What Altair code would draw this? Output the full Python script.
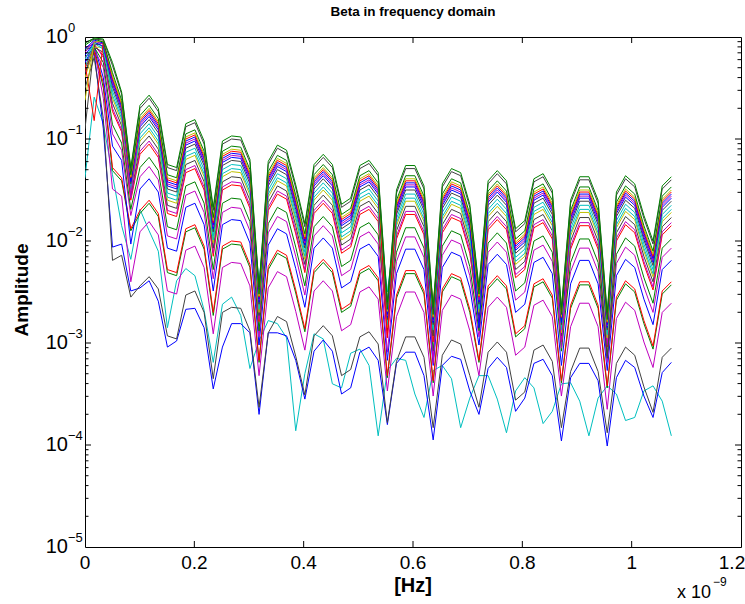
import altair as alt
import pandas as pd

FONT = "Liberation Sans"

# frequency axis (units of 1e-9 Hz)
freq = [0.0000, 0.0168, 0.0335, 0.0503, 0.0670, 0.0838, 0.1006, 0.1173, 0.1341, 0.1508,
        0.1676, 0.1844, 0.2011, 0.2179, 0.2346, 0.2514, 0.2682, 0.2849, 0.3017, 0.3184,
        0.3352, 0.3520, 0.3687, 0.3855, 0.4022, 0.4190, 0.4358, 0.4525, 0.4693, 0.4860,
        0.5028, 0.5196, 0.5363, 0.5531, 0.5698, 0.5866, 0.6034, 0.6201, 0.6369, 0.6536,
        0.6704, 0.6872, 0.7039, 0.7207, 0.7374, 0.7542, 0.7710, 0.7877, 0.8045, 0.8212,
        0.8380, 0.8548, 0.8715, 0.8883, 0.9050, 0.9218, 0.9386, 0.9553, 0.9721, 0.9888,
        1.0056, 1.0224, 1.0391, 1.0559, 1.0726]

# log10(amplitude), one list per curve
c1 = [-1.38, -0.59, -0.85, -1.35, -1.85, -2.18, -1.69, -1.90, -2.10, -2.85,
      -2.39, -2.27, -2.34, -2.68, -3.19, -2.62, -2.55, -2.73, -3.25, -2.98,
      -2.78, -2.81, -2.95, -3.86, -3.30, -2.91, -2.96, -3.40, -3.44, -3.10,
      -3.06, -3.22, -3.91, -3.27, -3.15, -3.17, -3.50, -3.73, -3.27, -3.22,
      -3.35, -3.83, -3.54, -3.32, -3.32, -3.55, -3.88, -3.47, -3.34, -3.44,
      -3.79, -3.67, -3.40, -3.39, -3.57, -3.91, -3.54, -3.42, -3.50, -3.76,
      -3.73, -3.47, -3.42, -3.57, -3.91]
b4 = [-0.35, -0.15, -0.90, -2.06, -2.03, -2.49, -2.46, -2.39, -2.59, -3.04,
      -2.98, -2.67, -2.66, -2.85, -3.45, -3.04, -2.81, -2.81, -2.90, -3.70,
      -2.90, -2.90, -2.93, -3.17, -3.55, -3.08, -2.97, -3.08, -3.50, -3.44,
      -3.09, -3.04, -3.17, -3.80, -3.20, -3.09, -3.09, -3.32, -3.95, -3.22,
      -3.13, -3.16, -3.47, -3.70, -3.25, -3.14, -3.24, -3.67, -3.54, -3.20,
      -3.16, -3.32, -3.96, -3.34, -3.20, -3.20, -3.37, -4.01, -3.34, -3.17,
      -3.24, -3.52, -3.73, -3.29, -3.19]
k1 = [-0.50, -0.20, -0.80, -2.19, -2.14, -2.55, -2.44, -2.35, -2.47, -2.93,
      -2.96, -2.53, -2.49, -2.70, -3.35, -2.70, -2.65, -2.66, -2.88, -3.63,
      -2.90, -2.74, -2.79, -3.13, -3.51, -2.93, -2.83, -2.93, -3.32, -3.26,
      -2.94, -2.89, -3.01, -3.78, -3.18, -2.94, -2.94, -3.14, -3.83, -3.12,
      -2.97, -3.01, -3.32, -3.63, -3.09, -2.99, -3.09, -3.56, -3.48, -3.07,
      -3.02, -3.18, -3.83, -3.28, -3.05, -3.05, -3.28, -3.88, -3.20, -3.04,
      -3.12, -3.43, -3.68, -3.14, -3.05]
m4 = [-0.25, -0.12, -0.60, -1.49, -1.56, -2.40, -1.91, -1.81, -1.94, -2.49,
      -2.52, -2.09, -2.05, -2.26, -2.91, -2.26, -2.21, -2.22, -2.44, -3.32,
      -2.46, -2.30, -2.35, -2.69, -3.07, -2.49, -2.39, -2.49, -2.88, -2.82,
      -2.50, -2.45, -2.57, -3.47, -2.74, -2.50, -2.50, -2.70, -3.52, -2.68,
      -2.53, -2.57, -2.88, -3.32, -2.65, -2.55, -2.65, -3.12, -3.04, -2.63,
      -2.58, -2.74, -3.52, -2.84, -2.61, -2.61, -2.84, -3.65, -2.76, -2.60,
      -2.68, -2.99, -3.24, -2.70, -2.61]
g4 = [-0.20, -0.10, -0.50, -1.31, -1.41, -1.90, -1.73, -1.63, -1.76, -2.31,
      -2.34, -1.91, -1.87, -2.08, -2.73, -2.08, -2.03, -2.04, -2.26, -3.19,
      -2.28, -2.12, -2.17, -2.51, -2.89, -2.31, -2.21, -2.31, -2.70, -2.64,
      -2.32, -2.27, -2.39, -3.34, -2.56, -2.32, -2.32, -2.52, -3.39, -2.50,
      -2.35, -2.39, -2.70, -3.19, -2.47, -2.37, -2.47, -2.94, -2.86, -2.45,
      -2.40, -2.56, -3.39, -2.66, -2.43, -2.43, -2.66, -3.44, -2.58, -2.42,
      -2.50, -2.81, -3.06, -2.52, -2.43]
r3 = [-0.30, -0.15, -0.45, -1.28, -1.38, -1.88, -1.70, -1.60, -1.73, -2.28,
      -2.31, -1.88, -1.84, -2.05, -2.70, -2.05, -2.00, -2.01, -2.23, -3.17,
      -2.25, -2.09, -2.14, -2.48, -2.86, -2.28, -2.18, -2.28, -2.67, -2.61,
      -2.29, -2.24, -2.36, -3.32, -2.53, -2.29, -2.29, -2.49, -3.37, -2.47,
      -2.32, -2.36, -2.67, -3.17, -2.44, -2.34, -2.44, -2.91, -2.83, -2.42,
      -2.37, -2.53, -3.37, -2.63, -2.40, -2.40, -2.63, -3.42, -2.55, -2.39,
      -2.47, -2.78, -3.03, -2.49, -2.40]
b3 = [-0.25, -0.08, -0.40, -1.07, -1.21, -2.03, -1.49, -1.39, -1.52, -2.07,
      -2.10, -1.67, -1.63, -1.84, -2.49, -1.84, -1.79, -1.80, -2.02, -3.02,
      -2.04, -1.88, -1.93, -2.27, -2.65, -2.07, -1.97, -2.07, -2.46, -2.40,
      -2.08, -2.03, -2.15, -3.17, -2.32, -2.08, -2.08, -2.28, -3.22, -2.26,
      -2.11, -2.15, -2.46, -3.02, -2.23, -2.13, -2.23, -2.70, -2.62, -2.21,
      -2.16, -2.32, -3.22, -2.42, -2.19, -2.19, -2.42, -3.27, -2.34, -2.18,
      -2.26, -2.57, -2.82, -2.28, -2.19]
m3 = [-0.20, -0.12, -0.30, -0.95, -1.11, -1.75, -1.37, -1.27, -1.40, -1.95,
      -1.98, -1.55, -1.51, -1.72, -2.37, -1.72, -1.67, -1.68, -1.90, -2.94,
      -1.92, -1.76, -1.81, -2.15, -2.53, -1.95, -1.85, -1.95, -2.34, -2.28,
      -1.96, -1.91, -2.03, -3.09, -2.20, -1.96, -1.96, -2.16, -3.14, -2.14,
      -1.99, -2.03, -2.34, -2.94, -2.11, -2.01, -2.11, -2.58, -2.50, -2.09,
      -2.04, -2.20, -2.85, -2.30, -2.07, -2.07, -2.30, -3.19, -2.22, -2.06,
      -2.14, -2.45, -2.70, -2.16, -2.07]
g3 = [-0.12, -0.10, -0.25, -0.86, -1.04, -1.69, -1.28, -1.18, -1.31, -1.86,
      -1.89, -1.46, -1.42, -1.63, -2.28, -1.63, -1.58, -1.59, -1.81, -2.88,
      -1.83, -1.67, -1.72, -2.06, -2.44, -1.86, -1.76, -1.86, -2.25, -2.19,
      -1.87, -1.82, -1.94, -2.80, -2.11, -1.87, -1.87, -2.07, -3.08, -2.05,
      -1.90, -1.94, -2.25, -2.88, -2.02, -1.92, -2.02, -2.49, -2.41, -2.00,
      -1.95, -2.11, -3.08, -2.21, -1.98, -1.98, -2.21, -3.13, -2.13, -1.97,
      -2.05, -2.36, -2.61, -2.07, -1.98]
r2 = [-0.30, -0.08, -0.18, -0.73, -0.93, -1.60, -1.15, -1.05, -1.18, -1.73,
      -1.76, -1.33, -1.29, -1.50, -2.15, -1.50, -1.45, -1.46, -1.68, -2.79,
      -1.70, -1.54, -1.59, -1.93, -2.31, -1.73, -1.63, -1.73, -2.12, -2.06,
      -1.74, -1.69, -1.81, -2.94, -1.98, -1.74, -1.74, -1.94, -2.99, -1.92,
      -1.77, -1.81, -2.12, -2.79, -1.89, -1.79, -1.89, -2.36, -2.28, -1.87,
      -1.82, -1.98, -2.99, -2.08, -1.85, -1.85, -2.08, -3.04, -2.00, -1.84,
      -1.92, -2.23, -2.48, -1.94, -1.85]
m2 = [-0.10, -0.07, -0.20, -0.70, -0.91, -1.58, -1.12, -1.02, -1.15, -1.70,
      -1.73, -1.30, -1.26, -1.47, -2.12, -1.47, -1.42, -1.43, -1.65, -2.77,
      -1.67, -1.51, -1.56, -1.90, -2.28, -1.70, -1.60, -1.70, -2.09, -2.03,
      -1.71, -1.66, -1.78, -2.92, -1.95, -1.71, -1.71, -1.91, -3.20, -1.89,
      -1.74, -1.78, -2.09, -2.77, -1.86, -1.76, -1.86, -2.33, -2.25, -1.84,
      -1.79, -1.95, -2.97, -2.05, -1.82, -1.82, -2.05, -3.02, -1.97, -1.81,
      -1.89, -2.20, -2.45, -1.91, -1.82]
k3 = [-0.35, -0.10, -0.15, -0.65, -0.87, -1.55, -1.07, -0.97, -1.10, -1.65,
      -1.68, -1.25, -1.21, -1.42, -2.07, -1.42, -1.37, -1.38, -1.60, -2.73,
      -1.62, -1.46, -1.51, -1.85, -2.23, -1.65, -1.55, -1.65, -2.04, -1.98,
      -1.66, -1.61, -1.73, -2.88, -1.90, -1.66, -1.66, -1.86, -2.93, -1.84,
      -1.69, -1.73, -2.04, -2.73, -1.81, -1.71, -1.81, -2.28, -2.20, -1.79,
      -1.74, -1.90, -2.93, -2.00, -1.77, -1.77, -2.00, -3.15, -1.92, -1.76,
      -1.84, -2.15, -2.40, -1.86, -1.77]
y2 = [-0.40, -0.10, -0.10, -0.60, -0.83, -1.51, -1.02, -0.92, -1.05, -1.60,
      -1.63, -1.20, -1.16, -1.37, -2.02, -1.37, -1.32, -1.33, -1.55, -2.70,
      -1.57, -1.41, -1.46, -1.80, -2.18, -1.60, -1.50, -1.60, -1.99, -1.93,
      -1.61, -1.56, -1.68, -2.85, -1.85, -1.61, -1.61, -1.81, -2.60, -1.79,
      -1.64, -1.68, -1.99, -2.70, -1.76, -1.66, -1.76, -2.23, -2.15, -1.74,
      -1.69, -1.85, -2.90, -1.95, -1.72, -1.72, -1.95, -2.95, -1.87, -1.71,
      -1.79, -2.10, -2.35, -1.81, -1.72]
c3 = [-0.30, -0.06, -0.12, -0.57, -0.80, -1.49, -0.99, -0.89, -1.02, -1.57,
      -1.60, -1.17, -1.13, -1.34, -1.99, -1.34, -1.29, -1.30, -1.52, -2.67,
      -1.54, -1.38, -1.43, -1.77, -2.15, -1.57, -1.47, -1.57, -1.96, -1.90,
      -1.58, -1.53, -1.65, -2.82, -1.82, -1.58, -1.58, -1.78, -2.87, -1.76,
      -1.61, -1.65, -1.96, -2.67, -1.73, -1.63, -1.73, -2.20, -2.12, -1.71,
      -1.66, -1.82, -2.87, -1.92, -1.69, -1.69, -1.92, -2.92, -1.84, -1.68,
      -1.76, -2.07, -2.32, -1.78, -1.69]
c2 = [-0.22, -0.05, -0.10, -0.53, -0.77, -1.47, -0.95, -0.85, -0.98, -1.53,
      -1.56, -1.13, -1.09, -1.30, -1.95, -1.30, -1.25, -1.26, -1.48, -2.40,
      -1.50, -1.34, -1.39, -1.73, -2.11, -1.53, -1.43, -1.53, -1.92, -1.86,
      -1.54, -1.49, -1.61, -2.50, -1.78, -1.54, -1.54, -1.74, -2.85, -1.72,
      -1.57, -1.61, -1.92, -2.65, -1.69, -1.59, -1.69, -2.16, -2.08, -1.67,
      -1.62, -1.78, -2.85, -1.88, -1.65, -1.65, -1.88, -2.90, -1.80, -1.64,
      -1.72, -2.03, -2.28, -1.74, -1.65]
k2 = [-0.90, -0.08, -0.06, -0.49, -0.74, -1.44, -0.91, -0.81, -0.94, -1.49,
      -1.52, -1.09, -1.05, -1.26, -1.91, -1.26, -1.21, -1.22, -1.44, -2.62,
      -1.46, -1.30, -1.35, -1.69, -2.07, -1.49, -1.39, -1.49, -1.88, -1.82,
      -1.50, -1.45, -1.57, -2.77, -1.74, -1.50, -1.50, -1.70, -2.82, -1.68,
      -1.53, -1.57, -1.88, -2.62, -1.65, -1.55, -1.65, -2.12, -2.04, -1.63,
      -1.58, -1.74, -2.82, -1.84, -1.61, -1.61, -1.84, -2.87, -1.76, -1.60,
      -1.68, -1.99, -2.24, -1.70, -1.61]
b2 = [-0.18, -0.05, -0.09, -0.46, -0.71, -1.42, -0.88, -0.78, -0.91, -1.46,
      -1.49, -1.06, -1.02, -1.23, -1.88, -1.23, -1.18, -1.19, -1.41, -2.60,
      -1.43, -1.27, -1.32, -1.66, -2.04, -1.46, -1.36, -1.46, -1.85, -1.79,
      -1.47, -1.42, -1.54, -2.75, -1.71, -1.47, -1.47, -1.67, -2.80, -1.65,
      -1.50, -1.54, -1.85, -2.60, -1.62, -1.52, -1.62, -2.09, -2.01, -1.60,
      -1.55, -1.71, -2.80, -1.81, -1.58, -1.58, -1.81, -2.85, -1.73, -1.57,
      -1.65, -1.96, -2.21, -1.67, -1.58]
m1 = [-0.15, -0.04, -0.07, -0.44, -0.70, -1.55, -0.86, -0.76, -0.89, -1.44,
      -1.47, -1.04, -1.00, -1.21, -1.86, -1.21, -1.16, -1.17, -1.39, -2.58,
      -1.41, -1.25, -1.30, -1.64, -2.02, -1.44, -1.34, -1.44, -1.83, -1.77,
      -1.45, -1.40, -1.52, -2.73, -1.69, -1.45, -1.45, -1.65, -2.78, -1.63,
      -1.48, -1.52, -1.83, -2.58, -1.60, -1.50, -1.60, -2.07, -1.99, -1.58,
      -1.53, -1.69, -3.05, -1.79, -1.56, -1.56, -1.79, -2.83, -1.71, -1.55,
      -1.63, -1.94, -2.19, -1.65, -1.56]
b1 = [-0.12, -0.03, -0.06, -0.42, -0.68, -1.39, -0.84, -0.74, -0.87, -1.42,
      -1.45, -1.02, -0.98, -1.19, -1.84, -1.19, -1.14, -1.15, -1.37, -2.57,
      -1.39, -1.23, -1.28, -1.62, -2.00, -1.42, -1.32, -1.42, -1.81, -1.75,
      -1.43, -1.38, -1.50, -2.72, -1.67, -1.43, -1.43, -1.63, -2.77, -1.61,
      -1.46, -1.50, -1.81, -2.85, -1.58, -1.48, -1.58, -2.05, -1.97, -1.56,
      -1.51, -1.67, -2.77, -1.77, -1.54, -1.54, -1.77, -2.82, -1.69, -1.53,
      -1.61, -1.92, -2.17, -1.63, -1.54]
r1 = [-0.26, -0.82, -0.05, -0.40, -0.66, -1.38, -0.82, -0.72, -0.85, -1.40,
      -1.43, -1.00, -0.96, -1.17, -1.82, -1.17, -1.12, -1.13, -1.35, -2.55,
      -1.37, -1.21, -1.26, -1.60, -1.98, -1.40, -1.30, -1.40, -1.79, -1.73,
      -1.41, -1.36, -1.48, -2.95, -1.65, -1.41, -1.41, -1.61, -2.75, -1.59,
      -1.44, -1.48, -1.79, -2.55, -1.56, -1.46, -1.56, -2.03, -1.95, -1.54,
      -1.49, -1.65, -2.75, -1.75, -1.52, -1.52, -1.75, -2.80, -1.67, -1.51,
      -1.59, -1.90, -2.15, -1.61, -1.52]
y1 = [-0.62, -0.05, -0.04, -0.38, -0.65, -1.37, -0.80, -0.70, -0.83, -1.38,
      -1.41, -0.98, -0.94, -1.15, -1.80, -1.15, -1.10, -1.11, -1.33, -2.54,
      -1.35, -1.19, -1.24, -1.58, -1.96, -1.38, -1.28, -1.38, -1.77, -1.71,
      -1.39, -1.34, -1.46, -2.69, -1.63, -1.39, -1.39, -1.59, -2.74, -1.57,
      -1.42, -1.46, -1.77, -2.54, -1.54, -1.44, -1.54, -2.01, -1.93, -1.52,
      -1.47, -1.63, -2.74, -1.73, -1.50, -1.50, -1.73, -2.79, -1.65, -1.49,
      -1.57, -1.88, -2.13, -1.59, -1.50]
g2 = [-0.08, -0.02, -0.05, -0.35, -0.62, -1.35, -0.77, -0.67, -0.80, -1.35,
      -1.38, -0.95, -0.91, -1.12, -1.77, -1.12, -1.07, -1.08, -1.30, -2.52,
      -1.32, -1.16, -1.21, -1.55, -1.93, -1.35, -1.25, -1.35, -1.74, -1.68,
      -1.36, -1.31, -1.43, -2.67, -1.60, -1.36, -1.36, -1.56, -2.72, -1.54,
      -1.39, -1.43, -1.74, -2.52, -1.51, -1.41, -1.51, -1.98, -1.90, -1.49,
      -1.44, -1.60, -2.72, -1.70, -1.47, -1.47, -1.70, -2.77, -1.62, -1.46,
      -1.54, -1.85, -2.10, -1.56, -1.47]
k4 = [-0.05, -0.02, -0.03, -0.28, -0.56, -1.30, -0.70, -0.60, -0.73, -1.28,
      -1.31, -0.88, -0.84, -1.05, -1.70, -1.05, -1.00, -1.01, -1.23, -2.47,
      -1.25, -1.09, -1.14, -1.48, -1.86, -1.28, -1.18, -1.28, -1.67, -1.61,
      -1.29, -1.24, -1.36, -2.62, -1.53, -1.29, -1.29, -1.49, -2.67, -1.47,
      -1.32, -1.36, -1.67, -2.47, -1.44, -1.34, -1.44, -1.91, -1.83, -1.42,
      -1.37, -1.53, -2.67, -1.63, -1.40, -1.40, -1.63, -2.72, -1.55, -1.39,
      -1.47, -1.78, -2.03, -1.49, -1.40]
g1 = [-0.06, -0.01, -0.02, -0.25, -0.54, -1.28, -0.67, -0.57, -0.70, -1.25,
      -1.28, -0.85, -0.81, -1.02, -1.67, -1.02, -0.97, -0.98, -1.20, -2.45,
      -1.22, -1.06, -1.11, -1.45, -1.83, -1.25, -1.15, -1.25, -1.64, -1.58,
      -1.26, -1.21, -1.33, -2.60, -1.50, -1.26, -1.26, -1.46, -2.65, -1.44,
      -1.29, -1.33, -1.64, -2.45, -1.41, -1.31, -1.41, -1.88, -1.80, -1.39,
      -1.34, -1.50, -2.65, -1.60, -1.37, -1.37, -1.60, -2.70, -1.52, -1.36,
      -1.44, -1.75, -2.00, -1.46, -1.37]

BLUE, GREEN, RED, CYAN, MAG, YEL, BLK = "#0000ff", "#008000", "#ff0000", "#00bfbf", "#bf00bf", "#bfbf00", "#404040"

curves = [c1, b4, k1, m4, g4, r3, b3, m3, g3, r2, m2, k3, y2, c3, c2, k2, b2, m1, b1, r1, y1, g2, k4, g1]
curve_colors = [CYAN, BLUE, BLK, MAG, GREEN, RED, BLUE, MAG, GREEN, RED, MAG, BLK, YEL, CYAN, CYAN, BLK,
                BLUE, MAG, BLUE, RED, YEL, GREEN, BLK, GREEN]
names = ["L%02d" % (i + 1) for i in range(len(curves))]

rows = []
for name, vals in zip(names, curves):
    assert len(vals) == len(freq), name
    for f, v in zip(freq, vals):
        rows.append({"freq": f, "amp": 10.0 ** v, "series": name})
df = pd.DataFrame(rows)

# axis ticks / labels
x_ticks = [0, 0.2, 0.4, 0.6, 0.8, 1.0, 1.2]
x_labels = ["0", "0.2", "0.4", "0.6", "0.8", "1", "1.2"]
y_decades = [1, 1e-1, 1e-2, 1e-3, 1e-4, 1e-5]
y_sup = ["0", "\u22121", "\u22122", "\u22123", "\u22124", "\u22125"]
minor_mult = [2, 3, 4, 5, 6, 7, 8, 9]
minor = [m * d for d in [1e-5, 1e-4, 1e-3, 1e-2, 1e-1] for m in minor_mult]

W, H = 656, 510
xs = alt.Scale(domain=[0, 1.2], nice=False, zero=False)
ys = alt.Scale(type="log", domain=[1e-5, 1], nice=False)

lines = alt.Chart(df).mark_line(strokeWidth=1, clip=True).encode(
    x=alt.X("freq:Q", scale=xs, axis=None),
    y=alt.Y("amp:Q", scale=ys, axis=None),
    color=alt.Color("series:N", scale=alt.Scale(domain=names, range=curve_colors), legend=None),
    order=alt.Order("freq:Q"),
)

xt_df = pd.DataFrame({"t": x_ticks[:-1], "lab": x_labels[:-1]})
xt_last = pd.DataFrame({"t": x_ticks[-1:], "lab": x_labels[-1:]})
xin = pd.DataFrame({"t": x_ticks[1:-1]})
ymaj = pd.DataFrame({"v": y_decades[1:-1]})
ymin = pd.DataFrame({"v": minor})
ylab = pd.DataFrame({"v": y_decades, "sup": y_sup})

def xrule(data, y1, y2):
    return alt.Chart(data).mark_rule(color="black", strokeWidth=1).encode(
        x=alt.X("t:Q", scale=xs, axis=None), y=alt.value(y1), y2=alt.value(y2))

def yrule(data, x1, x2):
    return alt.Chart(data).mark_rule(color="black", strokeWidth=1).encode(
        y=alt.Y("v:Q", scale=ys, axis=None), x=alt.value(x1), x2=alt.value(x2))

ticks = [
    xrule(xin, H, H - 6), xrule(xin, 0, 6),
    yrule(ymaj, 0, 6), yrule(ymaj, W, W - 6),
    yrule(ymin, 0, 3.5), yrule(ymin, W, W - 3.5),
]

XLS = 19
xlabels = alt.Chart(xt_df).mark_text(font=FONT, fontSize=XLS, baseline="middle", align="center", color="black").encode(
    x=alt.X("t:Q", scale=xs, axis=None), y=alt.value(H + 16), text="lab:N")
xlabel_last = alt.Chart(xt_last).mark_text(font=FONT, fontSize=XLS, baseline="middle", align="center", color="black",
                                           dx=-9).encode(
    x=alt.X("t:Q", scale=xs, axis=None), y=alt.value(H + 16), text="lab:N")

ylab10 = alt.Chart(ylab).mark_text(font=FONT, fontSize=20, baseline="middle", align="right", color="black").encode(
    y=alt.Y("v:Q", scale=ys, axis=None), x=alt.value(-17), text=alt.value("10"))
ylabsup = alt.Chart(ylab).mark_text(font=FONT, fontSize=13, baseline="middle", align="left", color="black", dy=-9).encode(
    y=alt.Y("v:Q", scale=ys, axis=None), x=alt.value(-17), text="sup:N")

def label(txt, x, y, size, bold=True, angle=0, align="center"):
    return alt.Chart(pd.DataFrame({"s": [txt]})).mark_text(
        font=FONT, fontSize=size, fontWeight="bold" if bold else "normal", angle=angle,
        align=align, baseline="middle", color="black").encode(
        x=alt.value(x), y=alt.value(y), text="s:N")

title = label("Beta in frequency domain", W / 2, -25, 13.5)
xtitle = label("[Hz]", W / 2, H + 39, 20)
ytitle = label("Amplitude", -63, H / 2 - 2, 19, angle=270)
mult = label("x 10", 592, H + 46, 18, bold=False, align="left")
mult_sup = label("\u22129", 628, H + 35, 12, bold=False, align="left")

chart = alt.layer(lines, *ticks, xlabels, xlabel_last, ylab10, ylabsup, title, xtitle, ytitle, mult, mult_sup).properties(
    width=W, height=H, autosize="none",
    padding={"left": 85, "top": 37, "right": 4, "bottom": 57},
).configure_view(stroke="black", strokeWidth=1)

chart.save("out.html", embed_options={"renderer": "svg", "actions": False})
